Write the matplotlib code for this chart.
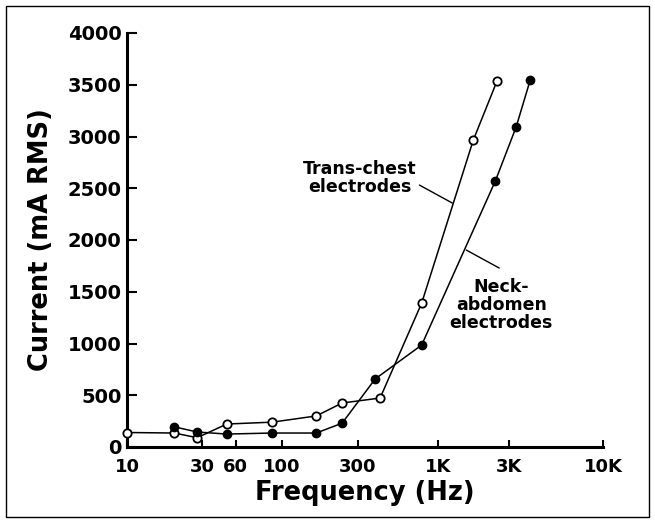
import numpy as np
import matplotlib.pyplot as plt
from matplotlib.patches import Rectangle
from matplotlib.ticker import FixedLocator, FixedFormatter

# data
freq_trans = [10, 20, 28, 50, 90, 165, 240, 420, 780, 1720, 2490]
cur_trans = [140, 135, 90, 222, 240, 300, 425, 473, 1390, 2966, 3540]

freq_neck = [20, 28, 50, 90, 165, 240, 390, 780, 2420, 3280, 3930]
cur_neck = [195, 145, 125, 135, 135, 230, 657, 985, 2570, 3092, 3546]

x_ticks = [10, 30, 60, 100, 300, 1000, 3000, 10000]
x_labels = ['10', '30', '60', '100', '300', '1K', '3K', '10K']
y_ticks = [0, 500, 1000, 1500, 2000, 2500, 3000, 3500, 4000]

# the original axis is a hand drawn log axis, spacing taken from the tick marks
tick_log = np.log10([10, 30, 60, 100, 300, 1000, 3000, 10000])
tick_pos = np.array([127, 202, 236, 282, 358, 439, 510, 604], dtype=float)


def fwd(x):
    x = np.clip(np.asarray(x, dtype=float), 1e-3, None)
    return np.interp(np.log10(x), tick_log, tick_pos)


def inv(p):
    return 10 ** np.interp(p, tick_pos, tick_log)


plt.rcParams['font.family'] = ['DejaVu Sans']
plt.rcParams['font.weight'] = 'bold'

fig = plt.figure(figsize=(6.55, 5.23), dpi=100)
ax = fig.add_axes([127 / 655, 1 - 447 / 523, (603 - 127) / 655, (447 - 33) / 523])

ax.set_xscale('function', functions=(fwd, inv))
ax.set_xlim(10, 10000)
ax.set_ylim(0, 4000)

ax.plot(freq_trans, cur_trans, color='black', lw=1.1, marker='o', ms=6,
        mfc='white', mec='black', mew=1.3, clip_on=False, zorder=3)
ax.plot(freq_neck, cur_neck, color='black', lw=1.1, marker='o', ms=6,
        mfc='black', mec='black', clip_on=False, zorder=3)

# labels with leader lines
ax.text(309, 2600, 'Trans-chest\nelectrodes', ha='center', va='center',
        fontsize=12.5, fontweight='bold', linespacing=1.0)
ax.annotate('', xy=(1242, 2357), xytext=(754, 2531),
            arrowprops=dict(arrowstyle='-', lw=1, color='black', shrinkA=0, shrinkB=0))
ax.text(2650, 1372, 'Neck-\nabdomen\nelectrodes', ha='center', va='center',
        fontsize=12.5, fontweight='bold', linespacing=1.0)
ax.annotate('', xy=(1542, 1903), xytext=(2570, 1729),
            arrowprops=dict(arrowstyle='-', lw=1, color='black', shrinkA=0, shrinkB=0))

ax.xaxis.set_major_locator(FixedLocator(x_ticks))
ax.xaxis.set_major_formatter(FixedFormatter(x_labels))
ax.xaxis.set_minor_locator(FixedLocator([]))
ax.set_yticks(y_ticks)

for s in ['top', 'right']:
    ax.spines[s].set_visible(False)
for s in ['left', 'bottom']:
    ax.spines[s].set_linewidth(2.2)

ax.tick_params(axis='y', direction='in', length=7, width=1.5, labelsize=14, pad=4)
ax.tick_params(axis='x', direction='in', length=5, width=1.5, labelsize=13, pad=8)
for lab in ax.get_xticklabels() + ax.get_yticklabels():
    lab.set_fontweight('bold')

ax.set_xlabel('Frequency (Hz)', fontsize=18.5, fontweight='bold', labelpad=3)
ax.set_ylabel('Current (mA RMS)', fontsize=18.5, fontweight='bold', labelpad=10)

fig.patches.append(Rectangle((6 / 655, 6 / 523), 643 / 655, 511 / 523,
                             transform=fig.transFigure, fill=False, lw=1, ec='black'))

fig.savefig('out.png', dpi=100)
